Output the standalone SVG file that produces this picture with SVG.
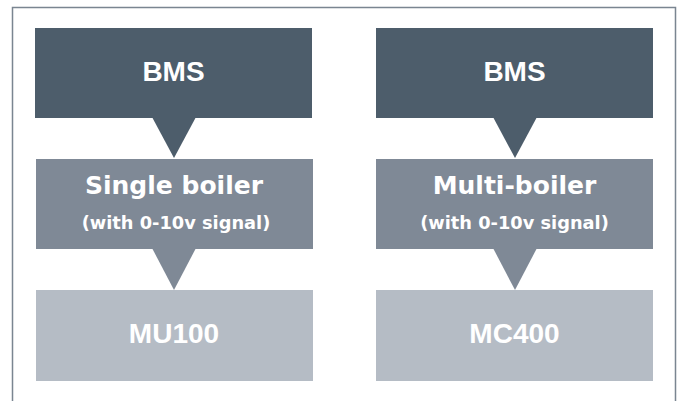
<svg xmlns="http://www.w3.org/2000/svg" width="681" height="401" viewBox="0 0 681 401">
<style>
.dark{fill:#4d5d6b}
.mid{fill:#7f8996}
.light{fill:#b5bcc5}
.t1{font-family:"Liberation Sans",Arial,sans-serif;font-weight:bold;font-size:28px;fill:#fff;text-anchor:middle}
.t2{font-family:"DejaVu Sans","Liberation Sans",sans-serif;font-weight:bold;font-size:25px;fill:#fff;text-anchor:middle}
.t3{font-family:"DejaVu Sans","Liberation Sans",sans-serif;font-weight:bold;font-size:17.8px;fill:#fff;text-anchor:middle}
</style>
<rect x="0" y="0" width="681" height="401" fill="#fff"/>
<path d="M12.5,401 V7.5 H675.5 V401" fill="none" stroke="#7a8591" stroke-width="1.5"/>
<g id="connectors">
<polygon class="dark" points="152,117 196,117 174,158"/>
<polygon class="mid" points="152,248 196,248 174,290"/>
<polygon class="dark" points="493,117 537,117 515,158"/>
<polygon class="mid" points="493,248 537,248 515,290"/>
</g>
<g id="bms-left">
<rect class="dark" x="35" y="28" width="277" height="90"/>
<text class="t1" x="173.5" y="81">BMS</text>
</g>
<g id="single-boiler">
<rect class="mid" x="36" y="159" width="277" height="90"/>
<text class="t2" x="174" y="194">Single boiler</text>
<text class="t3" x="176" y="229">(with 0-10v signal)</text>
</g>
<g id="mu100">
<rect class="light" x="36" y="290" width="277" height="91"/>
<text class="t1" x="174" y="343">MU100</text>
</g>
<g id="bms-right">
<rect class="dark" x="376" y="28" width="277" height="90"/>
<text class="t1" x="514.5" y="81">BMS</text>
</g>
<g id="multi-boiler">
<rect class="mid" x="376" y="159" width="277" height="90"/>
<text class="t2" x="514.5" y="194">Multi-boiler</text>
<text class="t3" x="514.5" y="229">(with 0-10v signal)</text>
</g>
<g id="mc400">
<rect class="light" x="376" y="290" width="277" height="91"/>
<text class="t1" x="514.5" y="343">MC400</text>
</g>
</svg>
